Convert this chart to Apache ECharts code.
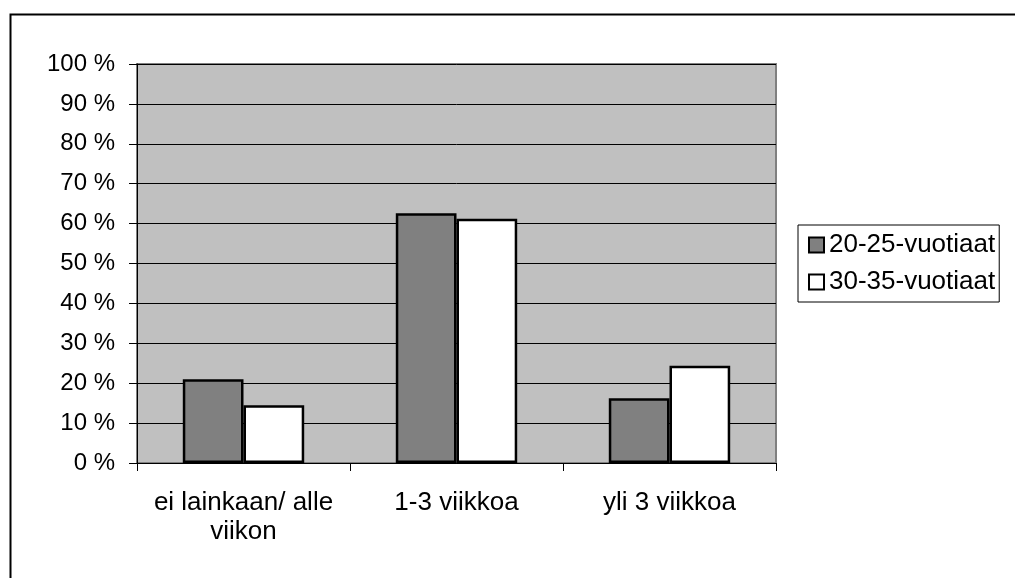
<!DOCTYPE html>
<html>
<head>
<meta charset="utf-8">
<script src="https://cdn.jsdelivr.net/npm/echarts@6/dist/echarts.min.js"></script>
<style>
html,body{margin:0;padding:0;background:#fff;}
#chart{width:1015px;height:578px;}
</style>
</head>
<body>
<div id="chart"></div>
<script>
const categories = ['ei lainkaan/ alle\nviikon', '1-3 viikkoa', 'yli 3 viikkoa'];
const seriesNames = ['20-25-vuotiaat', '30-35-vuotiaat'];
const values2025 = [21.0, 62.6, 16.2];
const values3035 = [14.5, 61.2, 24.4];

const FONT = "'Liberation Sans', Arial, sans-serif";
const chart = echarts.init(document.getElementById('chart'), null, {renderer: 'canvas'});
chart.setOption({
  animation: false,
  backgroundColor: '#ffffff',
  textStyle: {fontFamily: FONT, color: '#000'},
  graphic: [{
    type: 'rect',
    left: 8, top: 12,
    shape: {x: 0, y: 0, width: 1030, height: 600},
    style: {fill: 'none', stroke: '#000', lineWidth: 2},
    silent: true, z: 100
  }],
  grid: {
    left: 137, top: 64, right: 239, bottom: 115,
    show: true, backgroundColor: '#C0C0C0', borderColor: '#808080', borderWidth: 2
  },
  legend: {
    orient: 'vertical',
    left: 798, top: 225,
    backgroundColor: '#fff',
    borderColor: '#000', borderWidth: 1,
    padding: [6, 4, 6, 10],
    itemGap: 9,
    itemWidth: 15, itemHeight: 15,
    itemTextGap: 4,
    icon: 'rect',
    textStyle: {fontFamily: FONT, fontSize: 26, lineHeight: 28, color: '#000'},
    data: seriesNames
  },
  xAxis: {
    type: 'category',
    data: categories,
    axisLine: {lineStyle: {color: '#000', width: 1}},
    axisTick: {show: true, length: 8, lineStyle: {color: '#000'}},
    axisLabel: {interval: 0, fontFamily: FONT, fontSize: 26, lineHeight: 29, color: '#000', margin: 25}
  },
  yAxis: {
    type: 'value',
    min: 0, max: 100, interval: 10,
    axisLine: {show: true, lineStyle: {color: '#000', width: 1}},
    axisTick: {show: true, length: 8, lineStyle: {color: '#000'}},
    axisLabel: {formatter: '{value} %', fontFamily: FONT, fontSize: 24, color: '#000', margin: 22},
    splitLine: {show: true, lineStyle: {color: '#000', width: 1}}
  },
  series: [
    {
      name: seriesNames[0], type: 'bar', data: values2025,
      barGap: '0%', barCategoryGap: '43%',
      itemStyle: {color: '#808080', borderColor: '#000', borderWidth: 2.5}
    },
    {
      name: seriesNames[1], type: 'bar', data: values3035,
      barGap: '0%', barCategoryGap: '43%',
      itemStyle: {color: '#ffffff', borderColor: '#000', borderWidth: 2.5}
    }
  ]
});
</script>
</body>
</html>
